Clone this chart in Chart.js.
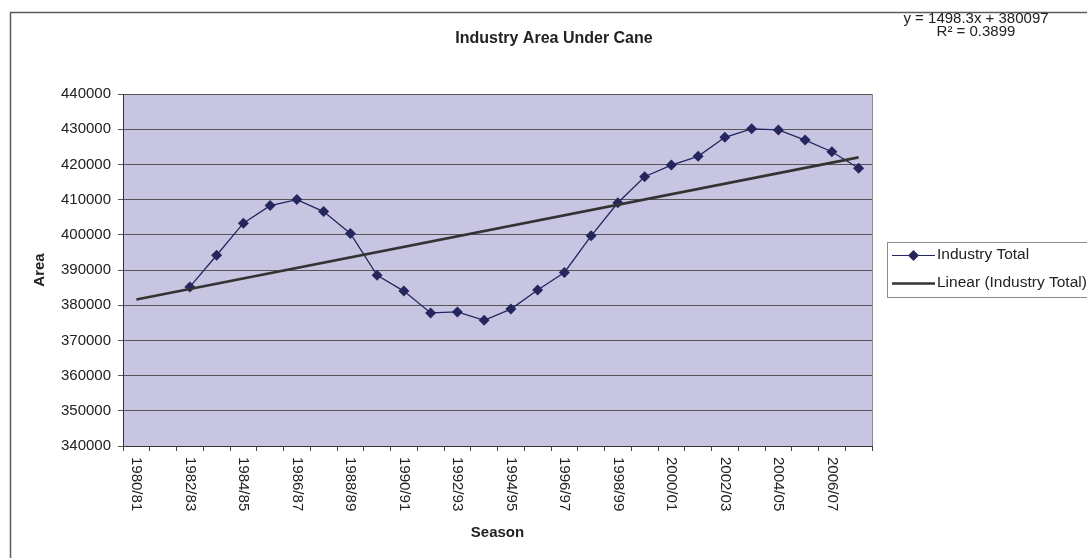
<!DOCTYPE html>
<html>
<head>
<meta charset="utf-8">
<script src="https://cdn.jsdelivr.net/npm/chart.js@4.4.0/dist/chart.umd.min.js"></script>
<style>
  body { margin: 0; background: #fff; }
  canvas { display: block; }
</style>
</head>
<body>
<canvas id="caneChart" width="1087" height="558"></canvas>
<script>
// Chart data
const seasons = [
  "1980/81", "1981/82", "1982/83", "1983/84", "1984/85", "1985/86", "1986/87",
  "1987/88", "1988/89", "1989/90", "1990/91", "1991/92", "1992/93", "1993/94",
  "1994/95", "1995/96", "1996/97", "1997/98", "1998/99", "1999/00", "2000/01",
  "2001/02", "2002/03", "2003/04", "2004/05", "2005/06", "2006/07", "2007/08"
];
const industryTotal = [
  null, null, 385200, 394200, 403300, 408300, 410000, 406600, 400400, 388500,
  384000, 377800, 378100, 375700, 378900, 384300, 389300, 399700, 409100, 416500,
  419800, 422300, 427700, 430100, 429800, 426900, 423600, 418900
];
// linear trend: only the two ends, the line spans the gap
const trendEnds = [381600, 422000];
const equationText = ["y = 1498.3x + 380097", "R\u00B2 = 0.3899"];
const yMin = 340000, yMax = 440000, yStep = 10000;

const FONT = '"Liberation Sans", Arial, sans-serif';
const NAVY = "#26265e";
const TREND = "#333333";

const trendLine = seasons.map(() => null);
trendLine[0] = trendEnds[0];
trendLine[seasons.length - 1] = trendEnds[1];

const ctx = document.getElementById("caneChart").getContext("2d");

// background, outer frame and plot area fill
const backdrop = {
  id: "backdrop",
  beforeDraw(chart) {
    const c = chart.ctx;
    const a = chart.chartArea;
    c.save();
    c.fillStyle = "#fff";
    c.fillRect(0, 0, chart.width, chart.height);
    c.strokeStyle = "#5c5c5c";
    c.lineWidth = 1.5;
    c.beginPath();
    c.moveTo(10.5, chart.height);
    c.lineTo(10.5, 12.5);
    c.lineTo(chart.width, 12.5);
    c.stroke();
    c.fillStyle = "#c7c5e2";
    c.fillRect(a.left, a.top, a.right - a.left, a.bottom - a.top);
    c.restore();
  }
};

// title, equation, rotated season labels, legend
const extras = {
  id: "extras",
  afterDraw(chart) {
    const c = chart.ctx;
    const a = chart.chartArea;
    const xs = chart.scales.x;
    c.save();

    // right edge of plot area
    c.strokeStyle = "#8a8a8a";
    c.lineWidth = 1;
    c.beginPath();
    c.moveTo(a.right + 0.5, a.top);
    c.lineTo(a.right + 0.5, a.bottom);
    c.stroke();

    c.fillStyle = "#222";
    c.textAlign = "center";
    c.textBaseline = "middle";
    c.font = "bold 16px " + FONT;
    c.fillText("Industry Area Under Cane", 554, 39);

    c.font = "15px " + FONT;
    c.fillText(equationText[0], 976, 19);
    c.fillText(equationText[1], 976, 32);

    // season labels, every other category, reading downwards
    c.textAlign = "left";
    seasons.forEach((s, i) => {
      if (i % 2) return;
      const x = xs.getPixelForValue(i);
      c.save();
      c.translate(x, xs.top + 11);
      c.rotate(Math.PI / 2);
      c.fillText(s, 0, 0);
      c.restore();
    });

    // legend box
    c.strokeStyle = "#8a8a8a";
    c.lineWidth = 1;
    c.fillStyle = "#fff";
    c.fillRect(887.5, 242.5, 220, 55);
    c.strokeRect(887.5, 242.5, 220, 55);

    const ds = chart.data.datasets;
    c.strokeStyle = NAVY;
    c.lineWidth = 1.2;
    c.beginPath();
    c.moveTo(892, 255.5);
    c.lineTo(935, 255.5);
    c.stroke();
    c.fillStyle = NAVY;
    c.beginPath();
    c.moveTo(913.5, 250);
    c.lineTo(919, 255.5);
    c.lineTo(913.5, 261);
    c.lineTo(908, 255.5);
    c.closePath();
    c.fill();

    c.strokeStyle = TREND;
    c.lineWidth = 2.6;
    c.beginPath();
    c.moveTo(892, 283.5);
    c.lineTo(935, 283.5);
    c.stroke();

    c.fillStyle = "#222";
    c.font = "15.5px " + FONT;
    c.textBaseline = "middle";
    c.fillText(ds[0].label, 937, 255);
    c.fillText(ds[1].label, 937, 283);

    c.restore();
  }
};

new Chart(ctx, {
  type: "line",
  data: {
    labels: seasons,
    datasets: [
      {
        label: "Industry Total",
        data: industryTotal,
        borderColor: NAVY,
        backgroundColor: NAVY,
        borderWidth: 1.3,
        pointStyle: "rectRot",
        pointRadius: 5.5,
        pointHoverRadius: 5.5,
        pointBackgroundColor: NAVY,
        pointBorderWidth: 0,
        tension: 0,
        order: 1
      },
      {
        label: "Linear (Industry Total)",
        data: trendLine,
        borderColor: TREND,
        borderWidth: 2.6,
        pointRadius: 0,
        spanGaps: true,
        tension: 0,
        order: 0
      }
    ]
  },
  options: {
    responsive: false,
    animation: false,
    layout: { padding: { left: 31, top: 94, right: 215, bottom: 16 } },
    plugins: {
      legend: { display: false },
      title: { display: false },
      tooltip: { enabled: false }
    },
    scales: {
      x: {
        type: "category",
        offset: true,
        afterFit: (s) => { s.height = 96; },
        border: { color: "#333", width: 1 },
        grid: {
          display: true,
          offset: true,
          drawOnChartArea: false,
          drawTicks: true,
          tickLength: 5,
          color: "#444"
        },
        ticks: { display: false, autoSkip: false },
        title: {
          display: true,
          text: "Season",
          color: "#222",
          padding: 0,
          font: { family: FONT, size: 15, weight: "bold" }
        }
      },
      y: {
        min: yMin,
        max: yMax,
        afterFit: (s) => { s.width = 92; },
        border: { color: "#333", width: 1 },
        grid: { color: "#555", lineWidth: 1, tickLength: 5 },
        ticks: {
          stepSize: yStep,
          padding: 7,
          color: "#222",
          font: { family: FONT, size: 15 },
          callback: (v) => String(v)
        },
        title: {
          display: true,
          text: "Area",
          color: "#222",
          padding: 0,
          font: { family: FONT, size: 15, weight: "bold" }
        }
      }
    }
  },
  plugins: [backdrop, extras]
});
</script>
</body>
</html>
